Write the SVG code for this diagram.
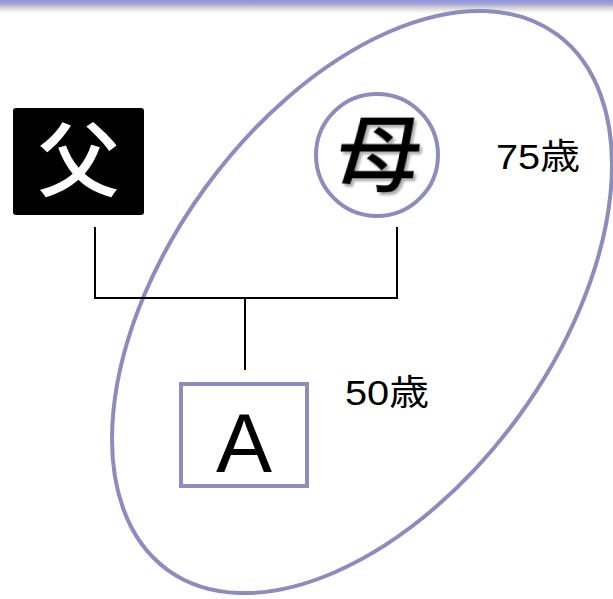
<svg xmlns="http://www.w3.org/2000/svg" width="613" height="599" viewBox="0 0 613 599">
<defs>
<linearGradient id="topbar" x1="0" y1="0" x2="0" y2="1">
<stop offset="0" stop-color="#8f8fe0"/>
<stop offset="0.35" stop-color="#a9a9d8"/>
<stop offset="0.5" stop-color="#c8c8c8"/>
<stop offset="1" stop-color="#ffffff"/>
</linearGradient>
<filter id="shadow" x="-20%" y="-20%" width="140%" height="140%">
<feDropShadow dx="3" dy="3" stdDeviation="1.2" flood-color="#000" flood-opacity="0.3"/>
</filter>
<style>
.frame{fill:none;stroke:#8c8cbf;stroke-width:4}
.conn{fill:none;stroke:#000;stroke-width:2}
.cjk{font-family:"Noto Sans CJK JP","Noto Sans CJK SC",sans-serif;font-weight:500}
.lbl{font-family:"Liberation Sans","Noto Sans CJK JP",sans-serif;font-size:35px;fill:#000}
</style>
</defs>
<rect width="613" height="599" fill="#fff"/>
<rect x="0" y="0" width="613" height="13" fill="url(#topbar)"/>
<g id="group-ellipse">
<ellipse class="frame" cx="362" cy="302" rx="331" ry="194" transform="rotate(-54 362 302)"/>
</g>
<g id="connectors">
<polyline class="conn" points="95,227 95,298 397,298 397,227"/>
<line class="conn" x1="245" y1="298" x2="245" y2="370"/>
</g>
<g id="father">
<rect x="13" y="108" width="131" height="107" rx="3" fill="#000"/>
<text x="78.5" y="190" text-anchor="middle" class="cjk" font-size="82" fill="#fff">父</text>
</g>
<g id="mother">
<circle class="frame" cx="377" cy="155" r="61" fill="#fff"/>
<text x="377" y="185" text-anchor="middle" class="cjk" font-size="84" fill="#000" filter="url(#shadow)" transform="skewX(-8) translate(24 0)">母</text>
</g>
<g id="child">
<rect class="frame" x="181" y="384" width="126" height="102" fill="#fff"/>
<text x="244" y="472" text-anchor="middle" font-family="Liberation Sans, sans-serif" font-size="84" fill="#000">A</text>
</g>
<text x="496" y="169" class="lbl" textLength="84" lengthAdjust="spacingAndGlyphs">75歳</text>
<text x="345" y="405" class="lbl" textLength="84" lengthAdjust="spacingAndGlyphs">50歳</text>
</svg>
